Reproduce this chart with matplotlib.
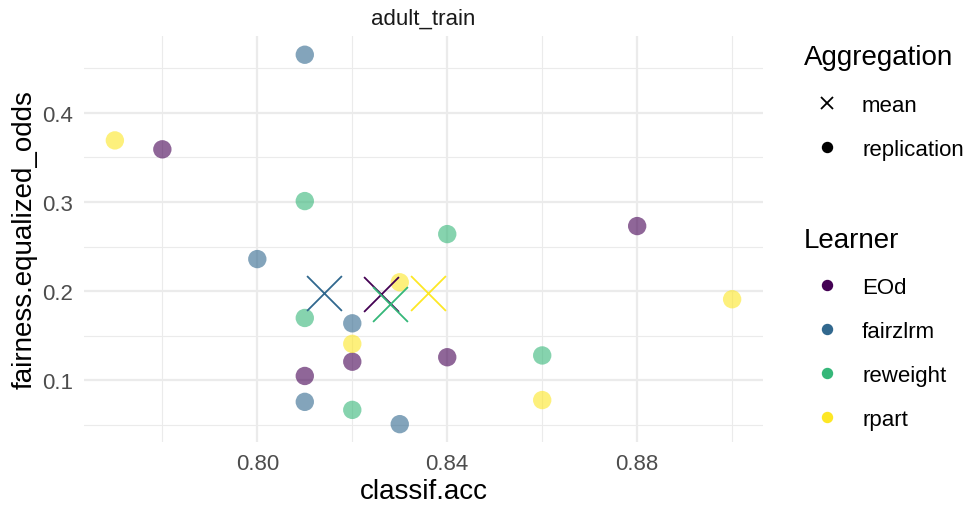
import numpy as np
import matplotlib.pyplot as plt
from matplotlib.lines import Line2D

plt.rcParams['font.family'] = ['Liberation Sans', 'DejaVu Sans']

learners = ['EOd', 'fairzlrm', 'reweight', 'rpart']
colors = ['#440154', '#31688E', '#35B779', '#FDE725']

# replication results per learner (classif.acc, fairness.equalized_odds)
acc = {
    'EOd':      [0.78, 0.88, 0.82, 0.84, 0.81],
    'fairzlrm': [0.81, 0.80, 0.82, 0.81, 0.83],
    'reweight': [0.81, 0.84, 0.81, 0.86, 0.82],
    'rpart':    [0.77, 0.90, 0.83, 0.82, 0.86],
}
eqodds = {
    'EOd':      [0.359, 0.273, 0.121, 0.126, 0.105],
    'fairzlrm': [0.465, 0.236, 0.164, 0.076, 0.051],
    'reweight': [0.301, 0.264, 0.170, 0.128, 0.067],
    'rpart':    [0.369, 0.191, 0.210, 0.141, 0.078],
}

fig = plt.figure(figsize=(9.67, 5.10), dpi=100)
ax = fig.add_axes([84 / 967, 1 - 443 / 510, (763 - 84) / 967, (443 - 37) / 510])

for lrn, col in zip(learners, colors):
    ax.scatter(acc[lrn], eqodds[lrn], s=175, color=col, alpha=0.6,
               edgecolors='none', zorder=3)
# mean of the replications
for lrn, col in zip(learners, colors):
    ax.scatter(np.mean(acc[lrn]), np.mean(eqodds[lrn]), marker='x', s=630,
               color=col, linewidths=1.3, zorder=4)

ax.set_xlim(0.7635, 0.9065)
ax.set_ylim(0.031, 0.486)
ax.set_xticks([0.80, 0.84, 0.88])
ax.set_xticklabels(['0.80', '0.84', '0.88'])
ax.set_xticks([0.78, 0.82, 0.86, 0.90], minor=True)
ax.set_yticks([0.1, 0.2, 0.3, 0.4])
ax.set_yticks([0.05, 0.15, 0.25, 0.35, 0.45], minor=True)
ax.grid(True, which='major', color='#EBEBEB', linewidth=1.6)
ax.grid(True, which='minor', color='#EBEBEB', linewidth=0.8)
ax.set_axisbelow(True)
for sp in ax.spines.values():
    sp.set_visible(False)
ax.tick_params(which='both', length=0, labelsize=16, colors='#4D4D4D')
ax.tick_params(axis='y', pad=8)
ax.tick_params(axis='x', pad=8)
ax.tick_params(axis='x', which='minor', labelbottom=False)
ax.set_xlabel('classif.acc', fontsize=20, color='black', labelpad=3)
ax.set_ylabel('fairness.equalized_odds', fontsize=20, color='black', labelpad=3)
ax.set_title('adult_train', fontsize=16, color='#1A1A1A', pad=8.6)

# legends: titles as plain text, entries as legends
leg_kw = dict(loc='upper left', frameon=False, fontsize=16,
              labelspacing=1.03, handlelength=2.07, handletextpad=0.54,
              borderpad=0, borderaxespad=0)

fig.text(804 / 967, 1 - 65 / 510, 'Aggregation', fontsize=20, va='baseline')
agg_handles = [
    Line2D([], [], marker='x', linestyle='none', color='black', markersize=9, markeredgewidth=1.3),
    Line2D([], [], marker='o', linestyle='none', color='black', markersize=7.2),
]
fig.legend(agg_handles, ['mean', 'replication'],
           bbox_to_anchor=(804 / 967, 1 - 96 / 510), **leg_kw)

fig.text(804 / 967, 1 - 248 / 510, 'Learner', fontsize=20, va='baseline')
lrn_handles = [Line2D([], [], marker='o', linestyle='none', color=c, markersize=7.2)
               for c in colors]
fig.legend(lrn_handles, learners,
           bbox_to_anchor=(804 / 967, 1 - 278 / 510), **leg_kw)

fig.savefig('out.png', dpi=100)
